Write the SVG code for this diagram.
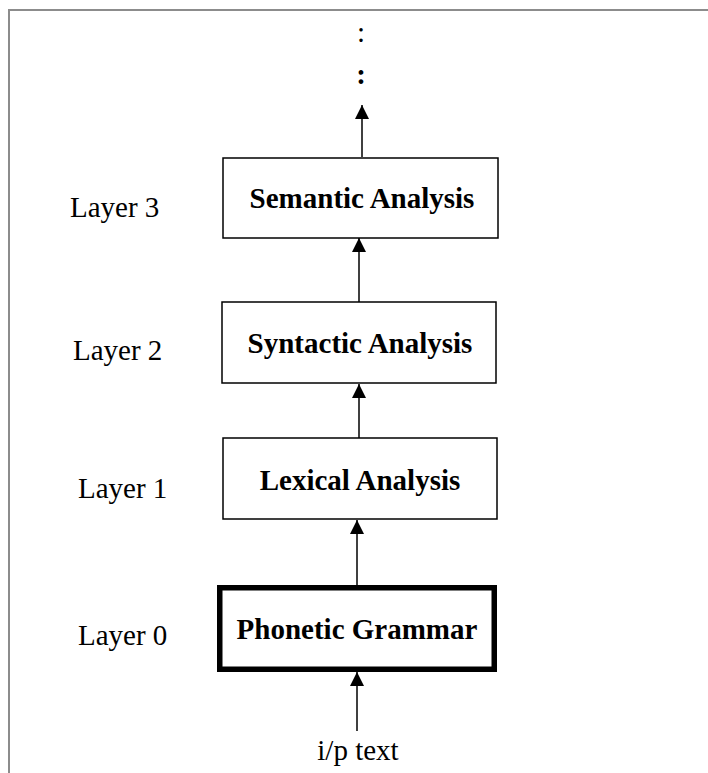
<svg xmlns="http://www.w3.org/2000/svg" width="708" height="773" viewBox="0 0 708 773">
<style>
.box{fill:#fff;stroke:#000;stroke-width:1.5}
.thick{fill:#fff;stroke:#000;stroke-width:5.5}
.t{font-family:"Liberation Serif","Times New Roman",serif;font-size:29px;fill:#000}
.b{font-weight:bold;text-anchor:middle}
.c{stroke:#000;stroke-width:1.5;fill:none;marker-end:url(#ah)}
</style>
<defs>
<marker id="ah" markerUnits="userSpaceOnUse" markerWidth="14" markerHeight="14" refX="14" refY="7" orient="auto">
<path d="M0,0 L14,7 L0,14 z" fill="#000"/>
</marker>
</defs>
<rect width="708" height="773" fill="#fff"/>
<g id="frame" stroke="#8c8c8c" stroke-width="2" fill="none">
<path d="M9,773 V10 H708"/>
</g>
<g id="dots">
<text class="t" x="361" y="42" text-anchor="middle" font-size="24">:</text>
<text class="t" x="361" y="84" text-anchor="middle" font-size="26" font-weight="bold">:</text>
</g>
<g id="connectors">
<line class="c" x1="362" y1="157" x2="362" y2="105"/>
<line class="c" x1="359" y1="302" x2="359" y2="238"/>
<line class="c" x1="359" y1="438" x2="359" y2="384"/>
<line class="c" x1="357" y1="585" x2="357" y2="520"/>
<line class="c" x1="357" y1="731" x2="357" y2="672"/>
</g>
<g id="semantic">
<rect class="box" x="223" y="158" width="275" height="80"/>
<text class="t b" x="362" y="208">Semantic Analysis</text>
</g>
<g id="syntactic">
<rect class="box" x="222" y="302" width="274" height="81"/>
<text class="t b" x="360" y="353">Syntactic Analysis</text>
</g>
<g id="lexical">
<rect class="box" x="223" y="438" width="274" height="81"/>
<text class="t b" x="360" y="490">Lexical Analysis</text>
</g>
<g id="phonetic">
<rect class="thick" x="219.75" y="587.75" width="274.5" height="81.5"/>
<text class="t b" x="357" y="639">Phonetic Grammar</text>
</g>
<g id="labels">
<text class="t" x="70" y="217">Layer 3</text>
<text class="t" x="73" y="360">Layer 2</text>
<text class="t" x="78" y="498">Layer 1</text>
<text class="t" x="78" y="645">Layer 0</text>
<text class="t" x="358" y="760" text-anchor="middle">i/p text</text>
</g>
</svg>
